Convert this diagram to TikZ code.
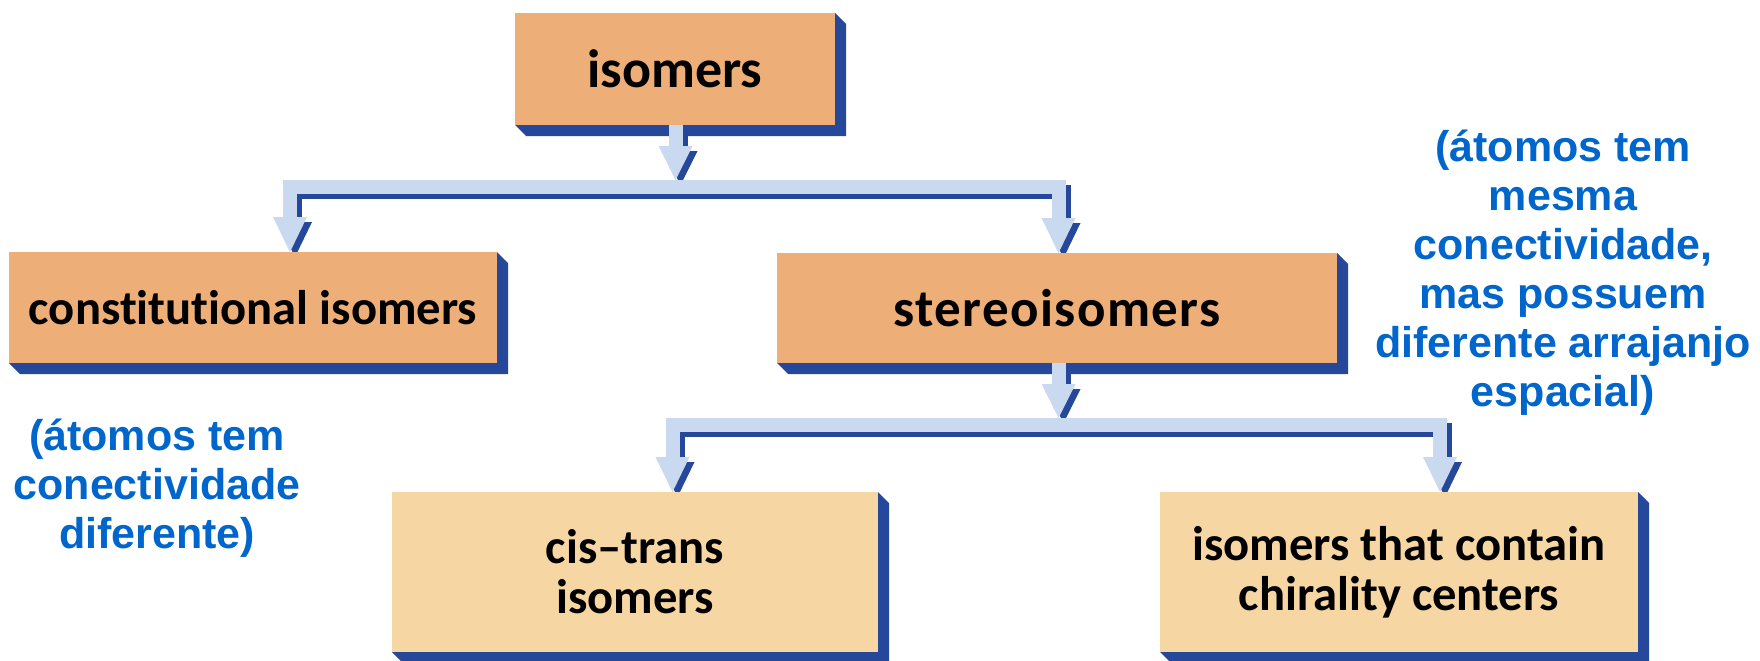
\documentclass[tikz,border=0pt]{standalone}
\usepackage{fontspec}
\usetikzlibrary{calc}
\newfontfamily\boxfont{Carlito}[Ligatures=NoCommon]
\newfontfamily\widefont{Carlito}[Ligatures=NoCommon, LetterSpace=2.6]
\newfontfamily\bluefont{Liberation Sans}
\definecolor{boxA}{HTML}{EDAE78}
\definecolor{boxB}{HTML}{F6D6A3}
\definecolor{shblue}{HTML}{26489B}
\definecolor{liblue}{HTML}{C9DAF0}
\definecolor{txblue}{HTML}{0066CC}
\pgfdeclarelayer{bg}
\pgfdeclarelayer{bshadow}
\pgfdeclarelayer{cdark}
\pgfdeclarelayer{clight}
\pgfsetlayers{bg,bshadow,cdark,clight,main}
\newcommand\boxshadow[1]{\fill[shblue] (#1.north east) -- ++(11,11) -- ($(#1.south east)+(11,11)$) -- ($(#1.south west)+(11,11)$) -- (#1.south west) -- cycle;}
\newcommand\twotone[1]{%
  \begin{pgfonlayer}{cdark}\begin{scope}[transform canvas={shift={(2.5pt,-2.5pt)}}]\colorlet{cc}{shblue}#1\end{scope}\end{pgfonlayer}%
  \begin{pgfonlayer}{clight}\begin{scope}\colorlet{cc}{liblue}#1\end{scope}\end{pgfonlayer}}
\newcommand\headat[1]{\fill[cc] ($(#1)+(-17,-35)$) -- ($(#1)+(17,-35)$) -- (#1) -- cycle;}
\begin{document}
\begin{tikzpicture}[x=0.5pt,y=-0.5pt,
  box/.style={inner sep=0pt, outer sep=0pt, align=center,
    font={\boxfont\bfseries\fontsize{24.3pt}{25pt}\selectfont}},
  topbox/.style={box, fill=boxA, font={\boxfont\bfseries\fontsize{27pt}{27pt}\selectfont}},
  midbox/.style={box, fill=boxA},
  widebox/.style={box, fill=boxA, font={\widefont\bfseries\fontsize{26.5pt}{26.5pt}\selectfont}},
  lowbox/.style={box, fill=boxB},
  band/.style={draw=cc, line width=7pt, line join=miter},
  note/.style={text=txblue, align=center,
    font={\bluefont\bfseries\fontsize{21.5pt}{24.5pt}\selectfont}}]
\begin{pgfonlayer}{bg}
  \fill[white] (0,0) rectangle (1760,660);
\end{pgfonlayer}
\useasboundingbox (0,0) rectangle (1760,660);

\node[topbox, minimum width=160pt, minimum height=56pt] (iso) at (675,69) {isomers};
\node[midbox, minimum width=244pt, minimum height=55.5pt] (con) at (253,307.5) {constitutional isomers};
\node[widebox, minimum width=280pt, minimum height=55pt] (ste) at (1057,308) {stereoisomers};
\node[lowbox, minimum width=243pt, minimum height=80pt] (cis) at (635,572) {cis–trans\\isomers};
\node[lowbox, minimum width=239pt, minimum height=80pt] (chi) at (1399,572) {isomers that contain\\chirality centers};

\begin{pgfonlayer}{bshadow}
  \boxshadow{iso}\boxshadow{con}\boxshadow{ste}\boxshadow{cis}\boxshadow{chi}
\end{pgfonlayer}

\coordinate (t0) at ($(iso.south)+(0.5,55)$);
\coordinate (t1) at ($(con.north)+(37,0)$);
\coordinate (t2) at ($(ste.north)+(1.5,0)$);
\coordinate (t3) at ($(ste.south)+(1.5,55)$);
\coordinate (t4) at ($(cis.north)+(37.5,0)$);
\coordinate (t5) at ($(chi.north)+(41,0)$);

\twotone{%
  \draw[band] ($(iso.south)+(0.5,0)$) -- ($(t0)+(0,-33)$);
  \fill[cc] ($(t0)+(-17,-34)$) -- ($(t0)+(17,-34)$) -- (t0) -- cycle;
  \draw[band] ($(t1)+(0,-34)$) |- ($(t0)+(0,6.5)$) -| ($(t2)+(0,-34)$);
  \headat{t1}\headat{t2}
  \draw[band] ($(ste.south)+(1.5,0)$) -- ($(t3)+(0,-33)$);
  \fill[cc] ($(t3)+(-17,-34)$) -- ($(t3)+(17,-34)$) -- (t3) -- cycle;
  \draw[band] ($(t4)+(0,-34)$) |- ($(t3)+(0,7)$) -| ($(t5)+(0,-34)$);
  \headat{t4}\headat{t5}
}

\node[note] (nr) at (1563,273) {(átomos tem\\mesma\\conectividade,\\mas possuem\\diferente arrajanjo\\espacial)};
\node[note] (nl) at (157,488) {(átomos tem\\conectividade\\diferente)};
\end{tikzpicture}
\end{document}
